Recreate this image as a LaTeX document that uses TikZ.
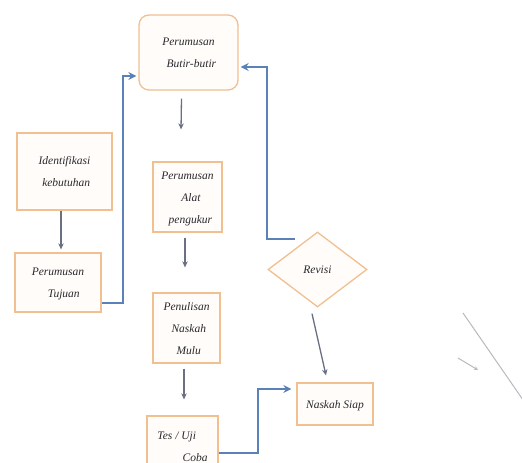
\documentclass[tikz,border=0pt]{standalone}
\usepackage{fontspec}
\setmainfont{Liberation Serif}
\usetikzlibrary{shapes.geometric,arrows.meta}
\definecolor{boxline}{RGB}{240,192,145}
\definecolor{conblue}{RGB}{90,130,185}
\definecolor{congray}{RGB}{105,112,130}
\definecolor{txtgray}{RGB}{40,40,45}
\definecolor{faintgray}{RGB}{185,185,190}
\newcommand{\btext}[2][0pt]{\raisebox{#1}{\begin{tabular}{@{}c@{}}#2\end{tabular}}}
\tikzset{
  x=1pt, y=-1pt,
  boxbase/.style={draw=boxline, line width=1.3pt, fill=orange!2, inner sep=0pt,
     text=txtgray, font=\fontsize{11.5}{22}\selectfont\itshape},
  flowbox/.style={boxbase, rectangle},
  roundbox/.style={boxbase, rectangle, rounded corners=10pt},
  decbox/.style={boxbase, diamond},
  blueline/.style={draw=conblue, line width=2.3pt, -{Stealth[length=8pt,width=8pt]}},
  grayline/.style={draw=congray, line width=1.3pt, -{Stealth[length=6pt,width=5.5pt]}},
  faintline/.style={draw=faintgray, line width=1pt}
}
\begin{document}
\begin{tikzpicture}
\useasboundingbox (0,0) rectangle (522,463);
\clip (0,0) rectangle (522,463);
\fill[white] (0,0) rectangle (522,463);

\node[roundbox, minimum width=99pt, minimum height=75pt] (butir) at (188.5,52.5)
  {\btext[6pt]{Perumusan\\\hspace*{0.5em}Butir-butir}};
\node[flowbox, minimum width=95pt, minimum height=77pt] (ident) at (64.5,171.5)
  {\btext[3pt]{Identifikasi\\\hspace*{0.3em}kebutuhan}};
\node[flowbox, minimum width=86pt, minimum height=59pt] (tuj) at (58,282.5)
  {\btext[-8pt]{Perumusan\\\hspace*{1em}Tujuan}};
\node[flowbox, minimum width=69pt, minimum height=70pt] (alat) at (187.5,197)
  {\btext{Perumusan\\\hspace*{0.6em}Alat\\\hspace*{0.5em}pengukur}};
\node[flowbox, minimum width=67pt, minimum height=70pt] (tulis) at (186.5,328)
  {\btext[2pt]{Penulisan\\\hspace*{0.4em}Naskah\\\hspace*{0.4em}Mulu}};
\node[flowbox, minimum width=71pt, minimum height=60pt, align=left] (tes) at (182.5,446)
  {\btext[7pt]{Tes / Uji\hspace*{1em}\\\hspace*{2.2em}Coba}};
\node[flowbox, minimum width=76pt, minimum height=42pt] (siap) at (335,404)
  {\btext[2pt]{Naskah Siap}};
\node[decbox, minimum width=99pt, minimum height=75pt] (revisi) at (317.5,269.5)
  {Revisi};

\coordinate (rv) at (295,239);

% gray vertical arrows
\draw[grayline] ([xshift=-7pt,yshift=-8pt]butir.south) -- ([xshift=-6.5pt,yshift=32pt]alat.north);
\draw[grayline] ([xshift=-3.5pt]ident.south) -- ([xshift=3pt,yshift=3pt]tuj.north);
\draw[grayline] ([xshift=-2.5pt,yshift=-5pt]alat.south) -- ([xshift=-1.5pt,yshift=25pt]tulis.north);
\draw[grayline] ([xshift=-2.5pt,yshift=-5pt]tulis.south) -- ([xshift=1.5pt,yshift=16pt]tes.north);
\draw[grayline] ([xshift=-5.5pt,yshift=-6pt]revisi.south) -- ([xshift=-9pt,yshift=7pt]siap.north);

% blue connectors
\draw[blueline] ([yshift=-20.5pt]tuj.east) -- ++(21,0) |- ([xshift=-2pt,yshift=-23.5pt]butir.west);
\draw[blueline] ([yshift=-7pt]tes.east) -- ++(39,0) |- ([xshift=-5pt,yshift=15pt]siap.west);
\draw[blueline] (rv) -- ++(-28,0) |- ([xshift=2pt,yshift=-14.5pt]butir.east);

% faint stray strokes at right
\coordinate (s1) at (463,313);
\coordinate (s2) at (530,410);
\coordinate (s3) at (458,358);
\coordinate (s4) at (478,370);
\draw[faintline] (s1) -- (s2);
\draw[faintline, -{Stealth[length=4pt,width=4pt]}] (s3) -- (s4);
\end{tikzpicture}
\end{document}
